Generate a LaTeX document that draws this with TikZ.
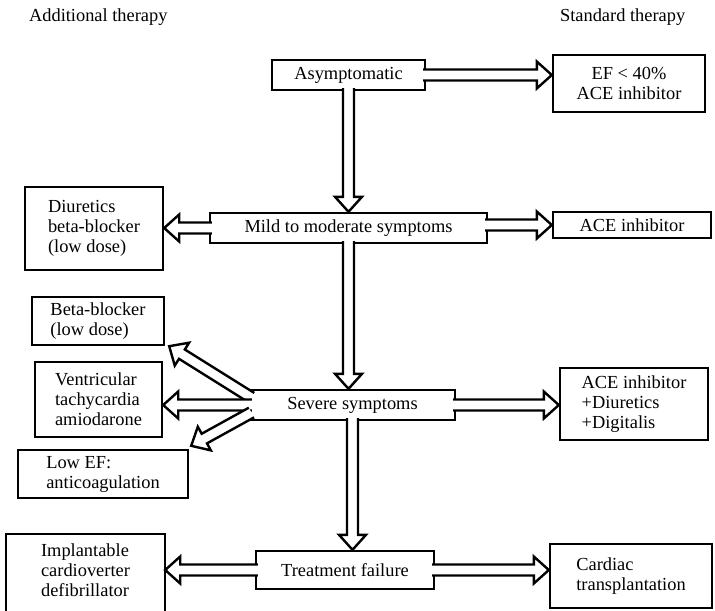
\documentclass[tikz,border=0pt]{standalone}
\usepackage{fontspec}
\setmainfont{Liberation Serif}
\usetikzlibrary{calc}

\newcommand{\fatarrow}[2]{%
  \coordinate (fs) at ($(#1)!-1.5pt!(#2)$);
  \coordinate (fe) at (#2);
  \coordinate (fh) at ($(fe)!7.5pt!(fs)$);
  \draw[fat] ($(fs)!2.75pt!90:(fe)$) -- ($(fh)!2.75pt!-90:(fs)$)
    -- ($(fh)!6.75pt!-90:(fs)$) -- (fe) -- ($(fh)!6.75pt!90:(fs)$)
    -- ($(fh)!2.75pt!90:(fs)$) -- ($(fs)!2.75pt!-90:(fe)$);
}

\begin{document}
\begin{tikzpicture}[x=0.5pt,y=-0.5pt,
every node/.style={font=\fontsize{9.2}{10}\selectfont},
box/.style={draw,line width=1.2pt,fill=white,align=left,inner sep=2pt},
fat/.style={draw,line width=1.2pt,fill=white,line join=miter,miter limit=20},
head/.style={anchor=west}]
\useasboundingbox (0,0) rectangle (715,610);

\node[head] (addl) at (22,17) {Additional therapy};
\node[head] (std) at (553,17) {Standard therapy};

\node[box,align=center,minimum width=76.5pt,minimum height=15pt] (asym) at (348.5,75) {Asymptomatic};
\node[box,align=center,minimum width=76pt,minimum height=28.5pt] (ef) at (629,83.5) {EF < 40\%\\ACE inhibitor};
\node[box,align=center,minimum width=138.5pt,minimum height=15pt] (mild) at (348.5,228) {Mild to moderate symptoms};
\node[box,minimum width=69pt,minimum height=41.5pt] (diur) at (94,228.5) {Diuretics\\beta-blocker\\(low dose)};
\node[box,align=center,minimum width=79pt,minimum height=13pt] (ace1) at (632,225) {ACE inhibitor};
\node[box,minimum width=66pt,minimum height=24pt] (beta) at (98,321) {Beta-blocker\\(low dose)};
\node[box,minimum width=63.5pt,minimum height=37.5pt] (vent) at (98.5,399.5) {Ventricular\\tachycardia\\amiodarone};
\node[box,minimum width=85pt,minimum height=24pt] (lowef) at (103,474) {Low EF:\\anticoagulation};
\node[box,align=center,minimum width=102.5pt,minimum height=15pt] (severe) at (352.5,405) {Severe symptoms};
\node[box,minimum width=74pt,minimum height=36pt] (ace2) at (634,404) {ACE inhibitor\\+Diuretics\\+Digitalis};
\node[box,align=center,minimum width=89pt,minimum height=19pt] (treat) at (345,570) {Treatment failure};
\node[box,draw=none,fill=none,minimum width=78.5pt,minimum height=35pt] (impl) at (85.5,570) {Implantable\\cardioverter\\defibrillator};
\draw[line width=1.2pt] ([yshift=-10pt]impl.south west) |- (impl.north east) -- ([yshift=-10pt]impl.south east);
\node[box,minimum width=81pt,minimum height=32pt] (card) at (631,576) {Cardiac\\transplantation};

\fatarrow{asym.east}{asym.east -| ef.west}
\fatarrow{asym.south}{asym.south |- mild.north}
\fatarrow{mild.west}{mild.west -| diur.east}
\fatarrow{mild.east |- ace1.west}{ace1.west}
\fatarrow{mild.south}{mild.south |- severe.north}
\fatarrow{[shift={(0,-9)}]severe.west}{[shift={(4,0)}]beta.south east}
\fatarrow{severe.west}{severe.west -| vent.east}
\fatarrow{[shift={(0,9)}]severe.west}{[shift={(2,-3)}]lowef.north east}
\fatarrow{severe.east}{severe.east -| ace2.west}
\fatarrow{severe.south}{severe.south |- treat.north}
\fatarrow{treat.west}{treat.west -| impl.east}
\fatarrow{treat.east}{treat.east -| card.west}
\end{tikzpicture}
\end{document}
